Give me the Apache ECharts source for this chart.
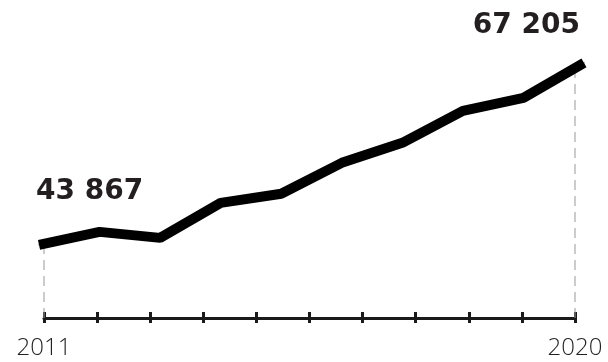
<!DOCTYPE html>
<html>
<head>
<meta charset="utf-8">
<script src="https://cdn.jsdelivr.net/npm/echarts@6/dist/echarts.min.js"></script>
<style>
html,body{margin:0;padding:0;background:#fff;}
#chart{width:608px;height:362px;}
</style>
</head>
<body>
<div id="chart"></div>
<script>
// ---- data ----
const years = ['2011','2012','2013','2014','2015','2016','2017','2018','2019','2020'];
const values = [43867, 45530, 44760, 49250, 50410, 54380, 56940, 61050, 62710, 67205];
const tickLabels = ['2011','','','','','','','','','','2020'];

// ---- layout ----
const yMin = 30000, yMax = 70000;
const g0 = {left: 39, width: 545, top: 41, height: 312};
const g1 = {left: 44, width: 531, top: 41, height: 277};
const yMin2 = yMax - (yMax - yMin) * g1.height / g0.height;

const fmt = v => String(v).replace(/\B(?=(\d{3})+(?!\d))/g, ' ');
const labelFont = {
  fontFamily: 'DejaVu Sans', fontWeight: 'bold', fontSize: 28, lineHeight: 28,
  color: '#231f20', verticalAlign: 'bottom'
};
const last = values.length - 1;
const lineData = values.map((v, i) => {
  if (i === 0) return {value: v, label: Object.assign({show: true, position: 'top', distance: 0, align: 'left', offset: [-3, -39], formatter: p => fmt(p.value)}, labelFont)};
  if (i === last) return {value: v, label: Object.assign({show: true, position: 'top', distance: 0, align: 'right', offset: [-4, -23], formatter: p => fmt(p.value)}, labelFont)};
  return v;
});

const endIdx = tickLabels.length - 1;
const chart = echarts.init(document.getElementById('chart'), null, {renderer: 'canvas'});
chart.setOption({
  animation: false,
  backgroundColor: '#fff',
  grid: [
    Object.assign({containLabel: false}, g0),
    Object.assign({containLabel: false}, g1)
  ],
  xAxis: [
    {gridIndex: 0, type: 'category', data: years, boundaryGap: false, show: false},
    {gridIndex: 1, type: 'value', min: 0, max: endIdx, interval: 1, position: 'bottom',
     axisLine: {show: true, lineStyle: {color: '#1a1a1a', width: 3}},
     axisTick: {show: true, inside: false, length: 5, lineStyle: {color: '#1a1a1a', width: 3}},
     splitLine: {show: false},
     axisLabel: {show: true, margin: 18, fontFamily: 'Open Sans', fontWeight: 300, fontSize: 24, color: '#231f20',
       formatter: v => tickLabels[Math.round(v)] || ''}},
    {gridIndex: 1, type: 'value', min: 0, max: endIdx, interval: 1, position: 'bottom',
     axisLine: {show: false},
     axisTick: {show: true, inside: true, length: 6, lineStyle: {color: '#1a1a1a', width: 3}},
     splitLine: {show: false}, axisLabel: {show: false}}
  ],
  yAxis: [
    {gridIndex: 0, type: 'value', min: yMin, max: yMax, show: false},
    {gridIndex: 1, type: 'value', min: yMin2, max: yMax, show: false}
  ],
  series: [
    {type: 'line', xAxisIndex: 1, yAxisIndex: 1, data: [[0, yMin2], [0, values[0]]],
     symbol: 'none', z: 1, silent: true,
     lineStyle: {color: '#999999', width: 1, type: [10, 6]}},
    {type: 'line', xAxisIndex: 1, yAxisIndex: 1, data: [[endIdx, yMin2], [endIdx, values[last]]],
     symbol: 'none', z: 1, silent: true,
     lineStyle: {color: '#999999', width: 1, type: [10, 6]}},
    {type: 'line', xAxisIndex: 0, yAxisIndex: 0, data: lineData, z: 3,
     symbol: 'circle', symbolSize: 1, itemStyle: {color: '#000'},
     lineStyle: {color: '#000', width: 10}}
  ]
});
</script>
</body>
</html>
